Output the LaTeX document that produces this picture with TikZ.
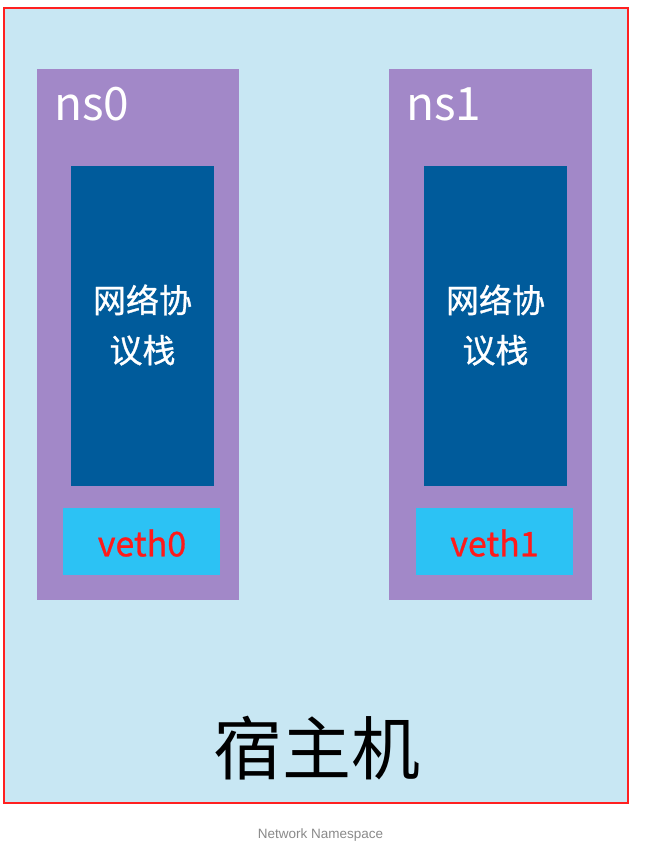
\documentclass[tikz,border=0pt]{standalone}
\usepackage{fontspec}
\setmainfont{Liberation Sans}
\newfontfamily\cjk{Noto Sans CJK SC}
\newfontfamily\cjkb{Noto Sans CJK SC}[FakeBold=0.8]
\definecolor{hostbg}{HTML}{C8E7F3}
\definecolor{nsbg}{HTML}{A288C8}
\definecolor{stackbg}{HTML}{005B9B}
\definecolor{vethbg}{HTML}{2CC2F4}
\definecolor{vethtxt}{HTML}{FF1A1A}
\definecolor{hostline}{HTML}{FF2020}
\definecolor{captxt}{HTML}{8A8A8A}
\tikzset{
  nsbox/.style={fill=nsbg, draw=none},
  stackbox/.style={text=white, font=\cjkb\fontsize{33}{50}\selectfont, align=center},
  vethbox/.style={text=vethtxt, font=\cjkb\fontsize{34}{36}\selectfont},
  nslabel/.style={text=white, font=\cjk\fontsize{46}{50}\selectfont, anchor=west, inner sep=0pt},
}
\begin{document}
\begin{tikzpicture}[x=1pt,y=-1pt]
\useasboundingbox[fill=white] (0,0) rectangle (651,844);
\fill[hostbg] (4,8) rectangle (628,803);
\draw[hostline, line width=2.4pt] (4,8) rectangle (628,803);
% ns0
\fill[nsbox] (37,69) rectangle (239,600);
\node[nslabel] (ns0) at (54,104) {ns0};
\fill[stackbg] (71,166) rectangle (214,486);
\node[stackbox] (st0) at (142.5,325) {网络协\\议栈};
\fill[vethbg] (63,508) rectangle (220,575);
\node[vethbox] (v0) at (142,543) {veth0};
% ns1
\fill[nsbox] (389,69) rectangle (592,600);
\node[nslabel] (ns1) at (406,104) {ns1};
\fill[stackbg] (424,166) rectangle (567,486);
\node[stackbox] (st1) at (495.5,325) {网络协\\议栈};
\fill[vethbg] (416,508) rectangle (573,575);
\node[vethbox] (v1) at (494.5,543) {veth1};
% host
\node[font=\cjk\fontsize{69}{72}\selectfont, text=black] (host) at (316.5,748) {宿主机};
\node[font=\fontsize{13.5}{15}\selectfont, text=captxt] (cap) at (320.5,835) {Network Namespace};
\end{tikzpicture}
\end{document}
